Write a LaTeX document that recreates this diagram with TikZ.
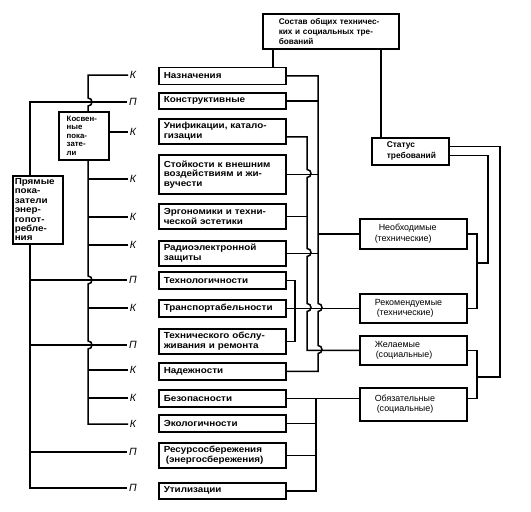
\documentclass[tikz,border=0pt]{standalone}
\usepackage{fontspec}
\setmainfont{Liberation Sans}
\newfontfamily\widefont[FakeStretch=1.12]{Liberation Sans}
\usetikzlibrary{calc}
\begin{document}
\begin{tikzpicture}[x=1pt,y=-1pt,line width=1.5pt,
  box/.style={draw,line width=1.5pt,anchor=north west,inner ysep=0pt,align=left},
  colbox/.style={box,minimum width=127pt,inner xsep=5pt,text width=117pt,font=\widefont\bfseries\fontsize{8.8}{9.6}\selectfont},
  rbox/.style={box,minimum width=107pt,inner xsep=15pt,text width=77pt,align=left,font=\fontsize{8.9}{10.5}\selectfont},
  lab/.style={font=\itshape\fontsize{10.5}{10.5}\selectfont,inner sep=1pt},
  hop/.style 2 args={insert path={-- (#1,#2-4) .. controls (#1+5.3,#2-4) and (#1+5.3,#2+4) .. (#1,#2+4)}}]
\useasboundingbox (0,0) rectangle (531,512);
% bus x positions
\coordinate (bk) at (88,0);
\coordinate (bp) at (30,0);
\coordinate (bA) at (318,0);
\coordinate (bB) at (307,0);
\coordinate (bC) at (295,0);
\coordinate (bD) at (316,0);
\coordinate (bR) at (477,0);
\coordinate (bS1) at (500,0);
\coordinate (bS2) at (488,0);
\coordinate (t1) at (273,0);
\coordinate (t2) at (381,0);
% top boxes
\node[box,minimum width=136pt,minimum height=35pt,inner xsep=16pt,text width=104pt,font=\bfseries\fontsize{8.2}{10}\selectfont] (sos) at (262,13) {Состав общих техничес-\\ких и социальных тре-\\бований};
\node[box,minimum width=77pt,minimum height=27pt,inner xsep=15pt,text width=47pt,font=\bfseries\fontsize{8.4}{11}\selectfont] (st) at (371,137) {Статус\\требований};
% column boxes
\node[colbox,minimum height=17pt] (b1) at (158,66.5) {Назначения};
\node[colbox,minimum height=16pt] (b2) at (158,92) {Конструктивные};
\node[colbox,minimum height=25pt] (b3) at (158,118) {Унификации, катало-\\гизации};
\node[colbox,minimum height=39pt] (b4) at (158,154) {Стойкости к внешним\\воздействиям и жи-\\вучести};
\node[colbox,minimum height=25pt] (b5) at (158,203) {Эргономики и техни-\\ческой эстетики};
\node[colbox,minimum height=25pt] (b6) at (158,240) {Радиоэлектронной\\защиты};
\node[colbox,minimum height=17pt] (b7) at (158,271) {Технологичности};
\node[colbox,minimum height=17pt] (b8) at (158,299) {Транспортабельности};
\node[colbox,minimum height=25pt] (b9) at (158,328) {Технического обслу-\\живания и ремонта};
\node[colbox,minimum height=17pt] (b10) at (158,362) {Надежности};
\node[colbox,minimum height=17pt] (b11) at (158,389) {Безопасности};
\node[colbox,minimum height=17pt] (b12) at (158,414) {Экологичности};
\node[colbox,minimum height=25pt] (b13) at (158,442) {Ресурсосбережения\\\hspace*{2pt}(энергосбережения)};
\node[colbox,minimum height=16pt] (b14) at (158,482) {Утилизации};
% right boxes
\node[rbox,minimum height=30pt] (nec) at (359,218) {\hspace*{4pt}Необходимые\\(технические)};
\node[rbox,minimum height=29pt] (rec) at (359,293) {Рекомендуемые\\\hspace*{2pt}(технические)};
\node[rbox,minimum height=29pt] (des) at (359,335) {Желаемые\\\hspace*{1pt}(социальные)};
\node[rbox,minimum height=33pt] (obl) at (359,387) {Обязательные\\\hspace*{2pt}(социальные)};
% left boxes
\node[box,minimum width=50pt,minimum height=48pt,inner xsep=8pt,text width=34pt,font=\bfseries\fontsize{7.8}{8.5}\selectfont] (kos) at (58,111) {Косвен-\\ные\\пока-\\зате-\\ли};
\node[box,minimum width=50pt,minimum height=68pt,inner xsep=2pt,text width=46pt,font=\widefont\bfseries\fontsize{8.8}{9.4}\selectfont] (prj) at (12,175) {Прямые\\пока-\\затели\\энер-\\гопот-\\ребле-\\ния};
% labels
\node[lab] (l1) at (133,75) {К};
\node[lab] (l2) at (133,102) {П};
\node[lab] (l3) at (133,132) {К};
\node[lab] (l4) at (133,179) {К};
\node[lab] (l5) at (133,217) {К};
\node[lab] (l6) at (133,245) {К};
\node[lab] (l7) at (133,280) {П};
\node[lab] (l8) at (133,308) {К};
\node[lab] (l9) at (133,345) {П};
\node[lab] (l10) at (133,370) {К};
\node[lab] (l11) at (133,398) {К};
\node[lab] (l12) at (133,424) {К};
\node[lab] (l13) at (133,452) {П};
\node[lab] (l14) at (133,488) {П};
% top connectors
\draw (t1 |- sos.south) -- (t1 |- b1.north);
\draw (t2 |- sos.south) -- (t2 |- st.north);
% left connectors: indirect indicators
\draw (l1.west) -- (l1.west -| bk) [hop={88}{102}] -- (bk |- kos.north);
\draw (kos.east |- l3.west) -- (l3.west);
\draw (bk |- kos.south) [hop={88}{280}] [hop={88}{345}] -- (bk |- l12.west) -- (l12.west);
\foreach \l in {l4,l5,l6,l8,l10,l11} \draw (bk |- \l.west) -- (\l.west);
% left connectors: direct indicators
\draw (l2.west) -- (l2.west -| bp) -- (bp |- prj.north);
\draw (bp |- prj.south) -- (bp |- l14.west) -- (l14.west);
\foreach \l in {l7,l9,l13} \draw (bp |- \l.west) -- (\l.west);
% right connectors
\coordinate (s3) at ($(b3.east)+(0,5.5)$);
\draw (b1.east) -- (b1.east -| bA) [hop={318}{307.5}] [hop={318}{349.5}] -- (b10.east -| bA) -- (b10.east);
\foreach \b in {b2,b4,b6} \draw (\b.east) -- (\b.east -| bA);
\draw (bA |- nec.west) -- (nec.west);
\draw (s3) -- (s3 -| bB) [hop={307}{173.5}] [hop={307}{252.5}] [hop={307}{307.5}] -- (bB |- des.west) -- (des.west);
\draw (b5.east) -- (b5.east -| bB);
\draw (b8.east) -- (rec.west);
\draw (b7.east) -- (b7.east -| bC) -- (b9.east -| bC) -- (b9.east);
\draw (b11.east) -- (obl.west |- b11.east);
\draw (b11.east -| bD) -- (b14.east -| bD) -- (b14.east);
\foreach \b in {b12,b13} \draw (\b.east) -- (\b.east -| bD);
% status connectors
\coordinate (st1) at ($(st.east)+(0,-5)$);
\coordinate (st2) at ($(st.east)+(0,4)$);
\coordinate (j1) at (477,263);
\coordinate (j2) at (477,377);
\draw (nec.east) -- (nec.east -| bR) -- (rec.east -| bR) -- (rec.east);
\draw (des.east) -- (des.east -| bR) -- (bR |- b11.east) -- (obl.east |- b11.east);
\draw (st1) -- (st1 -| bS1) -- (j2 -| bS1) -- (j2);
\draw (st2) -- (st2 -| bS2) -- (j1 -| bS2) -- (j1);
\end{tikzpicture}
\end{document}
